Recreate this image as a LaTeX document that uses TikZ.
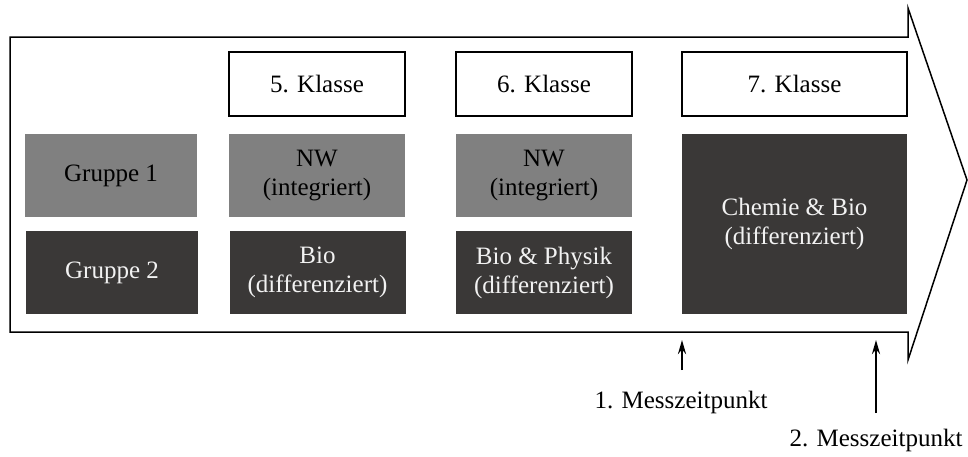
\documentclass[tikz,border=0pt]{standalone}
\usepackage{fontspec}
\setmainfont{Liberation Serif}
\usetikzlibrary{arrows.meta,positioning}
\definecolor{hellgrau}{HTML}{808080}
\definecolor{dunkel}{HTML}{3A3837}

\begin{document}
\begin{tikzpicture}[x=1pt,y=-1pt,
    schrift/.style={font=\fontsize{25}{29}\selectfont},
    klasse/.style={draw, line width=2pt, fill=white, minimum width=176pt, minimum height=64pt, schrift},
    hell/.style={fill=hellgrau, minimum width=176pt, minimum height=83pt, align=center, schrift},
    dunkelbox/.style={fill=dunkel, text=white!95!black, minimum width=176pt, minimum height=83pt, align=center, schrift},
    pfeil/.style={line width=2.5pt, -{Stealth[length=14pt,width=8pt]}}]
    \useasboundingbox (0,0) rectangle (968,456);

    % grosser Pfeil
    \draw[line width=1.5pt] (10,37) -- (908,37) -- (908,8) -- (967,180) -- (908,360) -- (908,332) -- (10,332) -- cycle;

    \node (k5) [klasse] at (317,84) {5. Klasse};
    \node (k6) [klasse] at (544,84) {6. Klasse};
    \node (k7) [klasse, minimum width=225pt] at (794.5,84) {7. Klasse};

    \node (g1) [hell, minimum width=172pt] at (111,175.5) {Gruppe 1};
    \node (g2) [dunkelbox, minimum width=172pt] at (112,272.5) {Gruppe 2};

    \node (nw5) [hell] at (317,175.5) {NW\\(integriert)};
    \node (bio5) [dunkelbox] at (317.5,272.5) {Bio\\(differenziert)};
    \node (nw6) [hell] at (544,175.5) {NW\\(integriert)};
    \node (bio6) [dunkelbox] at (544,272.5) {Bio \& Physik\\(differenziert)};
    \node (chem7) [dunkelbox, minimum width=225pt, minimum height=180pt] at (794.5,224) {Chemie \& Bio\\(differenziert)};

    \node (m1) [schrift] at (681,402) {1. Messzeitpunkt};
    \node (m2) [schrift] at (876,440) {2. Messzeitpunkt};
    \coordinate (t1) at (682,340);
    \coordinate (t2) at (876,340);

    \draw[pfeil] (m1.north -| t1) ++(0,-17) -- (t1);
    \draw[pfeil] (m2.north -| t2) ++(0,-12) -- (t2);
\end{tikzpicture}
\end{document}
